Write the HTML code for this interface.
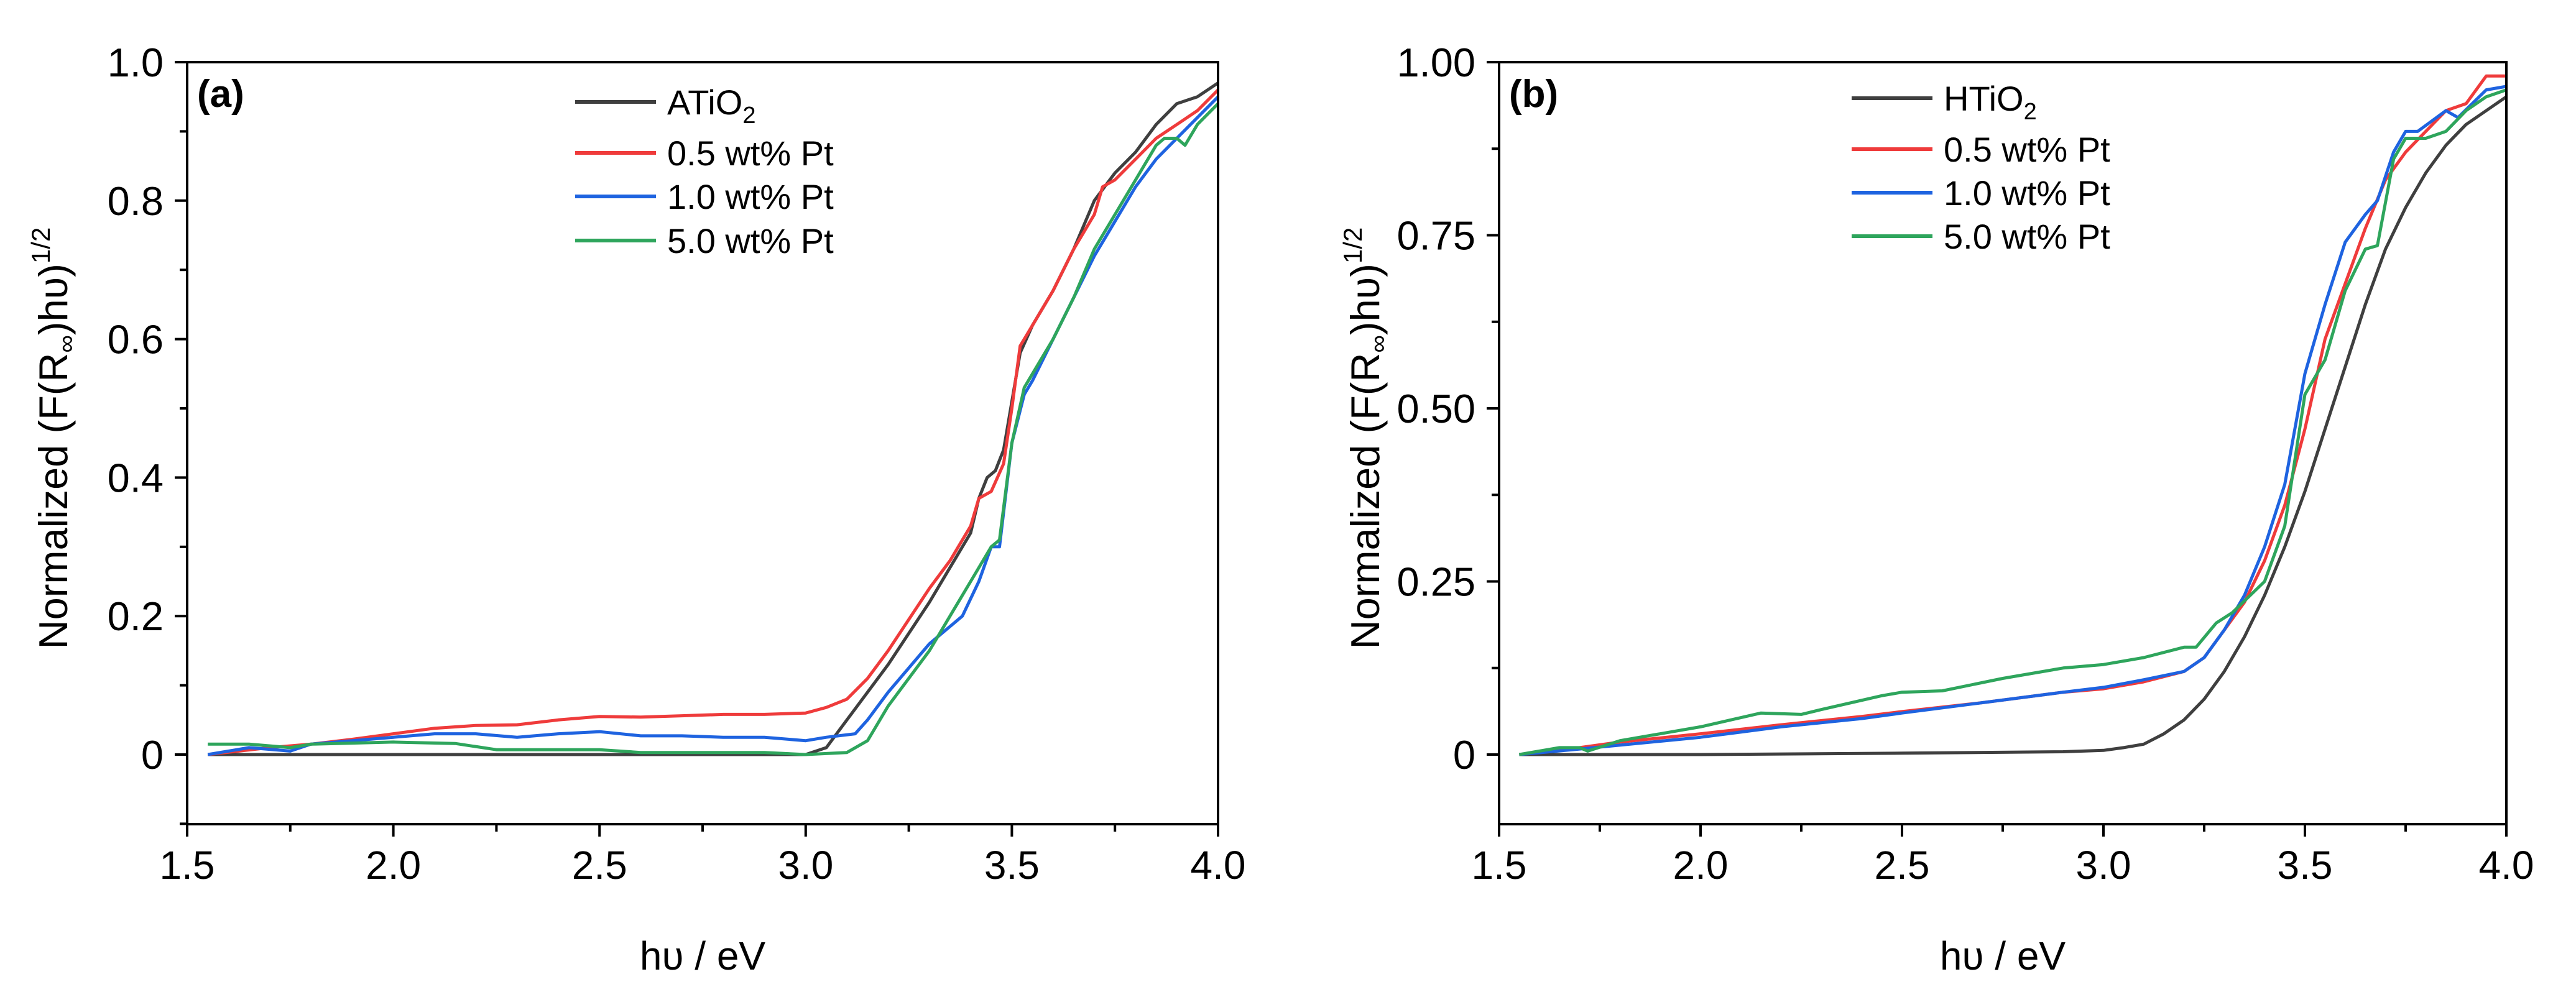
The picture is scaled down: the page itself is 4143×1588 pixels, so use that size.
<!DOCTYPE html>
<html><head><meta charset="utf-8"><style>
html,body{margin:0;padding:0;background:#fff;}
svg{display:block;font-family:"Liberation Sans",Arial,sans-serif;}
</style></head><body>
<svg id="fig" width="4143" height="1588" viewBox="0 0 4143 1588" xmlns="http://www.w3.org/2000/svg">
<rect width="4143" height="1588" fill="#fff"/>
<g id="pa"></g>
<g id="pb"></g>
</svg>
<script>
// ---- Panel (a) data ----
const aBlackX=[1.55,2.0,2.5,3.0,3.05,3.1,3.2,3.3,3.35,3.4,3.42,3.44,3.46,3.48,3.5,3.52,3.55,3.6,3.65,3.7,3.75,3.8,3.85,3.9,3.95,4.0];
const aBlackY=[0,0,0,0,0.01,0.05,0.13,0.22,0.27,0.32,0.37,0.40,0.41,0.44,0.51,0.58,0.62,0.67,0.73,0.80,0.84,0.87,0.91,0.94,0.95,0.97];
const aRedX=[1.55,1.7,1.8,1.9,2.0,2.1,2.2,2.3,2.4,2.5,2.6,2.7,2.8,2.9,3.0,3.05,3.1,3.15,3.2,3.3,3.35,3.4,3.42,3.45,3.48,3.5,3.52,3.55,3.6,3.65,3.7,3.72,3.75,3.8,3.85,3.9,3.95,4.0];
const aRedY=[0,0.01,0.015,0.022,0.03,0.038,0.042,0.043,0.05,0.055,0.054,0.056,0.058,0.058,0.06,0.068,0.08,0.11,0.15,0.24,0.28,0.33,0.37,0.38,0.42,0.50,0.59,0.62,0.67,0.73,0.78,0.82,0.83,0.86,0.89,0.91,0.93,0.96];
const aBlueX=[1.55,1.65,1.75,1.8,1.9,2.0,2.1,2.2,2.3,2.4,2.5,2.6,2.7,2.8,2.9,3.0,3.05,3.12,3.15,3.2,3.3,3.38,3.42,3.45,3.47,3.5,3.53,3.55,3.6,3.65,3.7,3.75,3.8,3.85,3.9,3.95,4.0];
const aBlueY=[0,0.01,0.005,0.015,0.02,0.025,0.03,0.03,0.025,0.03,0.033,0.027,0.027,0.025,0.025,0.02,0.025,0.03,0.05,0.09,0.16,0.2,0.25,0.3,0.3,0.45,0.52,0.54,0.6,0.66,0.72,0.77,0.82,0.86,0.89,0.92,0.95];
const aGreenX=[1.55,1.65,1.75,1.8,2.0,2.15,2.25,2.5,2.6,2.9,3.0,3.1,3.15,3.2,3.3,3.35,3.4,3.45,3.47,3.5,3.53,3.55,3.6,3.65,3.7,3.75,3.8,3.85,3.87,3.9,3.92,3.95,4.0];
const aGreenY=[0.015,0.015,0.01,0.015,0.018,0.016,0.007,0.007,0.003,0.003,0,0.003,0.02,0.07,0.15,0.2,0.25,0.3,0.31,0.45,0.53,0.55,0.6,0.66,0.73,0.78,0.83,0.88,0.89,0.89,0.88,0.91,0.94];
const aYTicks=[0,0.2,0.4,0.6,0.8,1.0];
const aYLabels=["0","0.2","0.4","0.6","0.8","1.0"];
const aLegend=["ATiO","0.5 wt% Pt","1.0 wt% Pt","5.0 wt% Pt"];
// ---- Panel (b) data ----
const bBlackX=[1.55,2.0,2.5,2.9,3.0,3.05,3.1,3.15,3.2,3.25,3.3,3.35,3.4,3.45,3.5,3.55,3.6,3.65,3.7,3.75,3.8,3.85,3.9,3.95,4.0];
const bBlackY=[0,0,0.002,0.004,0.006,0.01,0.015,0.03,0.05,0.08,0.12,0.17,0.23,0.3,0.38,0.47,0.56,0.65,0.73,0.79,0.84,0.88,0.91,0.93,0.95];
const bRedX=[1.55,1.7,1.8,2.0,2.2,2.4,2.5,2.7,2.9,3.0,3.1,3.2,3.25,3.3,3.35,3.4,3.45,3.5,3.55,3.6,3.65,3.7,3.75,3.8,3.85,3.9,3.95,4.0];
const bRedY=[0,0.01,0.018,0.03,0.043,0.055,0.062,0.075,0.09,0.095,0.105,0.12,0.14,0.18,0.22,0.28,0.36,0.47,0.6,0.68,0.76,0.83,0.87,0.9,0.93,0.94,0.98,0.98];
const bBlueX=[1.55,1.7,2.0,2.2,2.4,2.5,2.7,2.9,3.0,3.1,3.2,3.25,3.3,3.35,3.4,3.45,3.5,3.55,3.6,3.65,3.68,3.72,3.75,3.78,3.85,3.88,3.95,4.0];
const bBlueY=[0,0.008,0.025,0.04,0.052,0.06,0.075,0.09,0.097,0.108,0.12,0.14,0.18,0.23,0.3,0.39,0.55,0.65,0.74,0.78,0.8,0.87,0.9,0.9,0.93,0.92,0.96,0.965];
const bGreenX=[1.55,1.65,1.7,1.72,1.8,2.0,2.15,2.25,2.3,2.45,2.5,2.6,2.75,2.9,3.0,3.1,3.2,3.23,3.28,3.32,3.4,3.45,3.5,3.55,3.6,3.65,3.68,3.72,3.75,3.8,3.85,3.9,3.95,4.0];
const bGreenY=[0,0.01,0.01,0.005,0.02,0.04,0.06,0.058,0.065,0.085,0.09,0.092,0.11,0.125,0.13,0.14,0.155,0.155,0.19,0.205,0.25,0.33,0.52,0.57,0.67,0.73,0.735,0.86,0.89,0.89,0.9,0.93,0.95,0.96];
const bYTicks=[0,0.25,0.5,0.75,1.0];
const bYLabels=["0","0.25","0.50","0.75","1.00"];
const bLegend=["HTiO","0.5 wt% Pt","1.0 wt% Pt","5.0 wt% Pt"];
const xTicks=[1.5,2.0,2.5,3.0,3.5,4.0];
const xLabels=["1.5","2.0","2.5","3.0","3.5","4.0"];
const colors=["#3f3f3f","#ef3b3b","#1e63e0","#2ea55c"];
const NS="http://www.w3.org/2000/svg";
function mk(parent,tag,attrs,text){const e=document.createElementNS(NS,tag);for(const k in attrs)e.setAttribute(k,attrs[k]);if(text!==undefined)e.textContent=text;parent.appendChild(e);return e;}

function panel(g,cfg){
  const L=cfg.left,R=cfg.right,T=100,B=1326;
  const xs=v=>L+(v-1.5)/2.5*(R-L);
  const ys=v=>1214-v*1114;
  cfg.series.forEach((s,i)=>{
    const d=s.x.map((xv,j)=>(j?'L':'M')+xs(xv).toFixed(1)+' '+ys(s.y[j]).toFixed(1)).join(' ');
    const p=mk(g,'path',{d:d,fill:'none',stroke:colors[i],'stroke-width':5,'stroke-linejoin':'round'});
    
    
  });
  const fr=mk(g,'rect',{x:L,y:T,width:R-L,height:B-T,fill:'none',stroke:'#000','stroke-width':4});
  
  
  for(let v=1.5;v<=4.001;v+=0.25){
    const major=Math.abs(v*2-Math.round(v*2))<1e-6;
    mk(g,'line',{x1:xs(v),x2:xs(v),y1:B,y2:B+(major?20:12),stroke:'#000','stroke-width':4});
  }
  xTicks.forEach((v,i)=>{
    const t=mk(g,'text',{x:xs(v),y:B+88,'font-size':64,'text-anchor':'middle'},xLabels[i]);
    
    
  });
  const step=cfg.yMinor;
  for(let k=Math.ceil(-0.1/step-1e-6);k*step<=1.0001;k++){
    const v=k*step;const major=cfg.yTicks.some(t=>Math.abs(t-v)<1e-6);
    mk(g,'line',{x1:L,x2:L-(major?20:12),y1:ys(v),y2:ys(v),stroke:'#000','stroke-width':4});
  }
  cfg.yTicks.forEach((v,i)=>{
    const t=mk(g,'text',{x:L-38,y:ys(v)+23,'font-size':65,'text-anchor':'end'},cfg.yLabels[i]);
    
    
  });
  const pl=mk(g,'text',{x:L+16,y:172,'font-size':62,'font-weight':'bold'},cfg.label);
  
  
  const xt=mk(g,'text',{x:(L+R)/2,y:1560,'font-size':64,'text-anchor':'middle'},'hυ / eV');
  
  
  const yt=mk(g,'text',{x:0,y:0,'font-size':65,'text-anchor':'middle',transform:'translate('+(L-193)+',705) rotate(-90)'});
  
  
  yt.innerHTML='Normalized (F(R<tspan font-size="40" dy="12">∞</tspan><tspan dy="-12">)hυ)</tspan><tspan font-size="42" dy="-28">1/2</tspan>';
  cfg.legend.forEach((n,i)=>{
    const y=cfg.legY[i];
    const ln=mk(g,'line',{x1:cfg.legX,x2:cfg.legX+130,y1:y,y2:y,stroke:colors[i],'stroke-width':6});
    
    
    const t=mk(g,'text',{x:cfg.legX+148,y:y+20,'font-size':56},n);
    
    
    if(i===0){mk(t,'tspan',{'font-size':38,dy:14},'2');}
  });
}
panel(document.getElementById('pa'),{left:301,right:1959,label:'(a)',yTicks:aYTicks,yLabels:aYLabels,yMinor:0.1,
  legend:aLegend,legX:925,legY:[164,246,316,387],
  series:[{name:'atio2',x:aBlackX,y:aBlackY},{name:'0.5pt',x:aRedX,y:aRedY},{name:'1.0pt',x:aBlueX,y:aBlueY},{name:'5.0pt',x:aGreenX,y:aGreenY}]});
panel(document.getElementById('pb'),{left:2411,right:4031,label:'(b)',yTicks:bYTicks,yLabels:bYLabels,yMinor:0.125,
  legend:bLegend,legX:2978,legY:[158,240,310,380],
  series:[{name:'htio2',x:bBlackX,y:bBlackY},{name:'0.5pt',x:bRedX,y:bRedY},{name:'1.0pt',x:bBlueX,y:bBlueY},{name:'5.0pt',x:bGreenX,y:bGreenY}]});
</script>
</body></html>
